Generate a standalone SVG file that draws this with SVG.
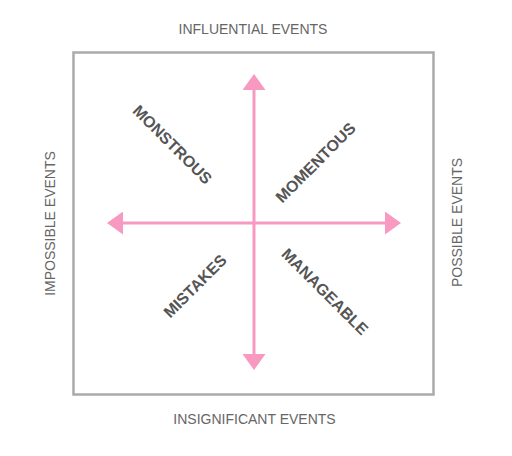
<svg xmlns="http://www.w3.org/2000/svg" width="512" height="456" viewBox="0 0 512 456">
<style>
.axis{font-family:"Liberation Sans",Arial,sans-serif;font-size:14px;fill:#666;}
.quad{font-family:"Liberation Sans",Arial,sans-serif;font-size:16px;font-weight:bold;fill:#555;}
.conn{stroke:#f799c0;stroke-width:3;fill:none;}
</style>
<defs>
<marker id="arr" viewBox="0 0 16 23" markerWidth="16" markerHeight="23" refX="0" refY="11.5" markerUnits="userSpaceOnUse" orient="auto-start-reverse">
<path d="M0,0 L16,11.5 L0,23 z" fill="#f799c0"/>
</marker>
</defs>
<rect width="512" height="456" fill="#fff"/>
<g id="frame">
<rect x="73.5" y="52.5" width="360" height="342" fill="none" stroke="#aaa" stroke-width="2.5"/>
</g>
<g id="connectors">
<line class="conn" x1="254" y1="354" x2="254" y2="90" marker-start="url(#arr)" marker-end="url(#arr)"/>
<line class="conn" x1="123" y1="223" x2="385" y2="223" marker-start="url(#arr)" marker-end="url(#arr)"/>
</g>
<g id="label-influential"><text class="axis" x="253" y="34" text-anchor="middle">INFLUENTIAL EVENTS</text></g>
<g id="label-insignificant"><text class="axis" x="254.5" y="424" text-anchor="middle">INSIGNIFICANT EVENTS</text></g>
<g id="label-impossible"><text class="axis" text-anchor="middle" transform="translate(55,223.5) rotate(-90)">IMPOSSIBLE EVENTS</text></g>
<g id="label-possible"><text class="axis" text-anchor="middle" transform="translate(462,222.5) rotate(-90)">POSSIBLE EVENTS</text></g>
<g id="node-monstrous"><text class="quad" text-anchor="middle" y="5.7" transform="translate(172.5,144.5) rotate(45)">MONSTROUS</text></g>
<g id="node-momentous"><text class="quad" text-anchor="middle" y="5.7" transform="translate(315.5,162.5) rotate(-45)">MOMENTOUS</text></g>
<g id="node-mistakes"><text class="quad" text-anchor="middle" y="5.7" transform="translate(195,286) rotate(-45)">MISTAKES</text></g>
<g id="node-manageable"><text class="quad" text-anchor="middle" y="5.7" transform="translate(325,291.5) rotate(45)">MANAGEABLE</text></g>
</svg>
